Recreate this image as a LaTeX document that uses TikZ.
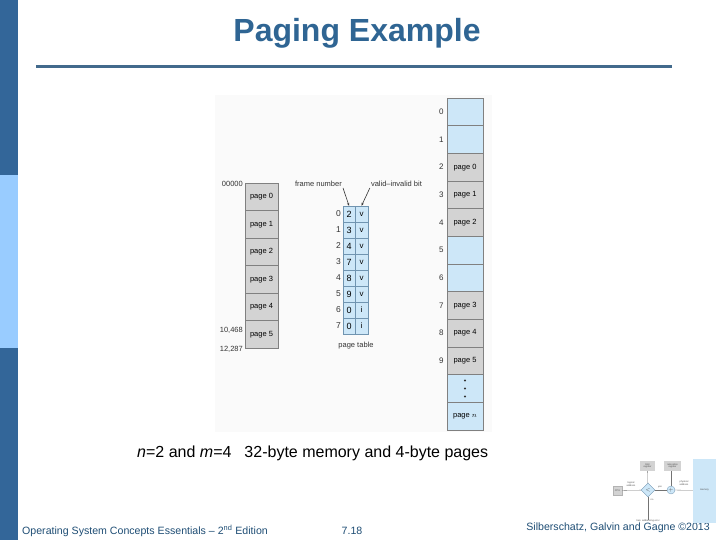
\documentclass[tikz,border=0pt]{standalone}
\usepackage{fontspec}
\setmainfont{Liberation Sans}
\usetikzlibrary{positioning,arrows.meta,shapes.geometric}

\definecolor{barblue}{HTML}{336699}
\definecolor{barlight}{HTML}{99CCFF}
\definecolor{titleblue}{HTML}{2F6593}
\definecolor{ruleblue}{HTML}{426A8C}
\definecolor{footblue}{HTML}{1E4D74}
\definecolor{pagegray}{HTML}{D3D3D3}
\definecolor{framefill}{HTML}{CDE7F8}
\definecolor{edgegray}{HTML}{808080}
\definecolor{edgeblue}{HTML}{7094B0}

\begin{document}
\begin{tikzpicture}[
  x=1pt,y=-1pt,
  >=Stealth,
  every node/.style={inner sep=0pt},
  lpage/.style={draw=edgegray,fill=pagegray,minimum width=33pt,minimum height=27.5pt,
    font=\fontsize{7.5}{8}\selectfont},
  pframe/.style={draw=edgegray,minimum width=36pt,minimum height=27.67pt,
    font=\fontsize{7.5}{8}\selectfont},
  cell/.style={draw=edgeblue,fill=framefill,minimum height=16pt,font=\fontsize{9}{10}\selectfont},
  lbl/.style={font=\fontsize{7.5}{8}\selectfont,text=black!80},
  pointer/.style={-{Stealth[length=3pt,width=2.4pt]},line width=0.6pt,black!80},
  foot/.style={font=\fontsize{10.6}{12}\selectfont,text=footblue},
  tiny/.style={font=\fontsize{2.4}{2.7}\selectfont,align=center,text=black!70},
  wire/.style={line width=0.3pt,black!55}
]
  \useasboundingbox (0,0) rectangle (720,540);

  % side bar and heading
  \fill[barblue] (0,0) rectangle (18,175);
  \fill[barlight] (0,175) rectangle (18,348);
  \fill[barblue] (0,348) rectangle (18,540);
  \node[font=\fontsize{32}{36}\selectfont\bfseries,text=titleblue] (title) at (357,33) {Paging Example};
  \draw[ruleblue,line width=3pt] (36,67) -- (672,67);

  % figure area
  \fill[black!2] (215,95) rectangle (492,432);

  % logical memory
  \foreach \i in {0,...,5}
    \node[lpage] (lp\i) at (261.5,{196.75+27.5*\i}) {page \i};
  \node[lbl,anchor=east] (a0) at (243,184) {00000};
  \node[lbl,anchor=east] (a1) at (243,330) {10,468};
  \node[lbl,anchor=east] (a2) at (243,349) {12,287};

  % page table
  \foreach \i/\f/\v in {0/2/v,1/3/v,2/4/v,3/7/v,4/8/v,5/9/v,6/0/i,7/0/i} {
    \node[cell,minimum width=12pt] (pf\i) at (349,{214+16*\i}) {\f};
    \node[cell,minimum width=13pt,font=\fontsize{8}{9}\selectfont] (pv\i) at (361.5,{214+16*\i}) {\v};
    \node[lbl,anchor=east,font=\fontsize{8.5}{9}\selectfont] (pi\i) at (341,{214+16*\i}) {\i};
  }
  \node[lbl] (fnum) at (318.5,184) {frame number};
  \node[lbl] (vbit) at (396.5,184) {valid--invalid bit};
  \node[lbl] (ptab) at (356,346) {page table};
  \draw[pointer] ([xshift=1pt,yshift=-1pt]fnum.south east) -- (pf0.north);
  \draw[pointer] ([xshift=-1pt,yshift=-1pt]vbit.south west) -- (pv0.north);

  % physical memory
  \foreach \i/\c/\t in {0/framefill/{},1/framefill/{},2/pagegray/page 0,3/pagegray/page 1,
      4/pagegray/page 2,5/framefill/{},6/framefill/{},7/pagegray/page 3,8/pagegray/page 4,
      9/pagegray/page 5,10/framefill/{},11/framefill/{page $n$}}
    \node[pframe,fill=\c] (pm\i) at (465,{111.83+27.67*\i}) {\t};
  \foreach \i in {0,...,9}
    \node[lbl,anchor=east,font=\fontsize{8}{9}\selectfont] (fn\i) at ([xshift=-3pt]pm\i.west) {\i};
  \foreach \d in {-8,0,8}
    \fill[black!80] ([yshift=\d pt]pm10.center) circle (1.1pt);

  % caption
  \node[font=\fontsize{16}{18}\selectfont,anchor=west] (cap) at (137,453)
    {\textit{n}=2 and \textit{m}=4\hspace{13pt}32-byte memory and 4-byte pages};

  % footer
  \node[foot,anchor=west] (ft1) at (22,531) {Operating System Concepts Essentials -- 2\textsuperscript{nd} Edition};
  \node[foot] (ft2) at (352,531) {7.18};
  \node[foot,anchor=east] (ft3) at (710,528) {Silberschatz, Galvin and Gagne \textcopyright 2013};

  % thumbnail
  \node[fill=framefill,minimum width=23pt,minimum height=64pt,tiny] (mem) at (704.5,490.5) {memory};
  \node[fill=pagegray,draw=edgegray!60,line width=0.2pt,minimum width=9pt,minimum height=9pt,tiny] (cpu) at (617.5,490.5) {CPU};
  \node[diamond,draw=edgeblue,fill=framefill,line width=0.3pt,minimum size=14pt,tiny] (cmp) at (648,490) {$<$};
  \node[circle,draw=edgeblue,fill=framefill,line width=0.3pt,minimum size=8pt,tiny] (add) at (671,490) {$+$};
  \node[fill=pagegray,minimum width=15pt,minimum height=10pt,tiny] (limreg) at (647.5,466) {limit\\register};
  \node[fill=pagegray,minimum width=17pt,minimum height=10pt,tiny] (relreg) at (672.5,466) {relocation\\register};
  \node[tiny] (trap) at (648,521) {trap: addressing error};
  \node[tiny] (lad) at (631,484) {logical\\address};
  \node[tiny] (yes) at (660,487) {yes};
  \node[tiny] (no) at (652,500) {no};
  \node[tiny] (pad) at (684,483) {physical\\address};
  \draw[wire] (cpu) -- (cmp);
  \draw[wire] (cmp) -- (add);
  \draw[wire] (add) -- (mem);
  \draw[wire] (limreg) -- (cmp);
  \draw[wire] (relreg.south -| add) -- (add);
  \draw[wire] (cmp) -- (trap);
\end{tikzpicture}
\end{document}
